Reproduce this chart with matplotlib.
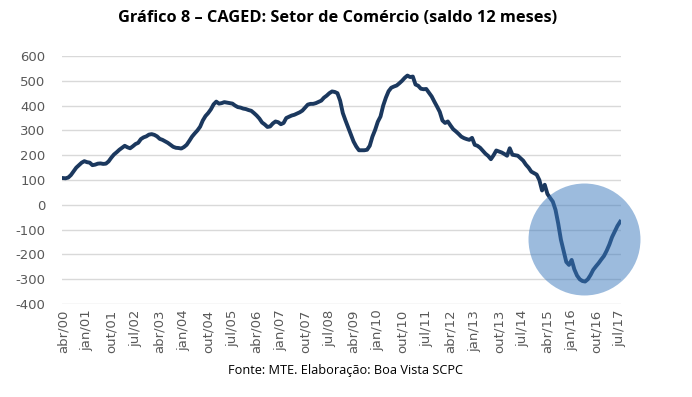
import matplotlib.pyplot as plt
import numpy as np

# saldo 12 meses, comercio (mil), mensal de abr/00 a jul/17
saldo = [108, 107, 110, 120, 135, 150, 160, 170, 176, 172, 170, 160,
         162, 166, 167, 165, 166, 175, 190, 203, 212, 222, 230, 238,
         232, 228, 236, 245, 250, 265, 272, 276, 283, 285, 282, 276,
         266, 262, 256, 250, 242, 234, 230, 229, 227, 233, 242, 258,
         275, 288, 300, 315, 340, 358, 370, 385, 405, 416, 408, 410,
         414, 412, 410, 408, 400, 394, 392, 388, 386, 382, 379, 370,
         360, 348, 332, 324, 314, 316, 328, 336, 333, 325, 330, 350,
         355, 360, 363, 368, 373, 380, 392, 404, 407, 407, 410, 415,
         420, 432, 440, 450, 457, 455, 450, 420, 370, 340, 312, 285,
         255, 235, 220, 220, 220, 222, 238, 275, 302, 335, 356, 400,
         432, 458, 472, 477, 481, 490, 500, 512, 521, 515, 517, 485,
         480, 468, 466, 467, 452, 437, 416, 396, 375, 340, 330, 336,
         320, 305, 296, 286, 275, 269, 265, 262, 270, 242, 238, 230,
         218, 206, 197, 184, 200, 219, 215, 211, 205, 198, 228, 202,
         200, 198, 188, 178, 162, 150, 134, 128, 122, 100, 58, 81,
         44, 28, 13, -20, -75, -140, -185, -230, -242, -222, -260, -285,
         -300, -307, -309, -300, -283, -262, -248, -235, -220, -206, -185, -160,
         -130, -108, -85, -68]

meses = ['jan', 'fev', 'mar', 'abr', 'mai', 'jun', 'jul', 'ago', 'set', 'out', 'nov', 'dez']
yticks = [-400, -300, -200, -100, 0, 100, 200, 300, 400, 500, 600]

# destaque (circulo) no fim da serie
circ_x, circ_y = 193.7, -137

labels = []
for i in range(len(saldo)):
    m = (3 + i) % 12
    a = (2000 + (3 + i) // 12) % 100
    labels.append('{}/{:02d}'.format(meses[m], a))
tickpos = list(range(0, len(saldo), 9))

fig = plt.figure(figsize=(6.92, 3.97), dpi=100)
ax = fig.add_axes([0.0896, 0.234, 0.8077, 0.625])

x = np.arange(len(saldo))
ax.plot(x, saldo, color='#1b385e', lw=2.8, solid_joinstyle='round', zorder=3)
ax.scatter([circ_x], [circ_y], s=6500, color='#3a78bd', alpha=0.5, lw=0, zorder=4, clip_on=False)

ax.set_ylim(-400, 600)
ax.set_xlim(-0.3, len(saldo) - 0.7)
ax.set_yticks(yticks)
ax.set_yticklabels([str(v) for v in yticks])
ax.set_xticks(tickpos)
ax.set_xticklabels([labels[i] for i in tickpos], rotation=90)
ax.tick_params(axis='both', length=0, labelsize=9.5, colors='#595959')
ax.tick_params(axis='y', pad=12)
ax.tick_params(axis='x', pad=4)
for s in ax.spines.values():
    s.set_visible(False)
ax.grid(axis='y', color='#d9d9d9', lw=1)
ax.set_axisbelow(True)

fig.text(0.488, 0.955, 'Gráfico 8 – CAGED: Setor de Comércio (saldo 12 meses)',
         ha='center', va='center', fontsize=11.8, fontweight='bold', family='Open Sans')
fig.text(0.499, 0.068, 'Fonte: MTE. Elaboração: Boa Vista SCPC',
         ha='center', va='center', fontsize=9.2, family='Open Sans')

fig.savefig('out.png', dpi=100)
